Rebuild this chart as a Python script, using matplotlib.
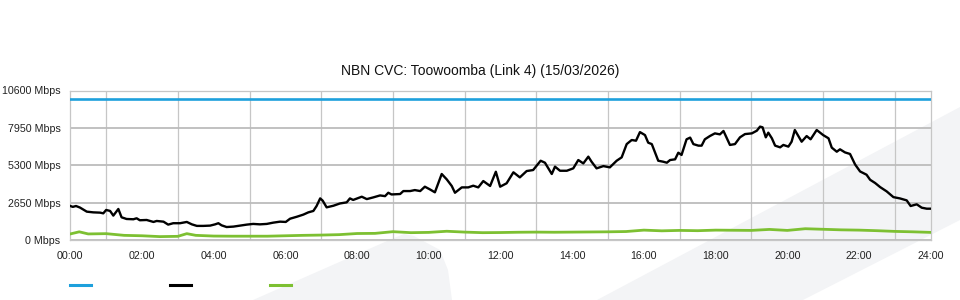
import matplotlib
matplotlib.use("Agg")
import matplotlib.pyplot as plt
from matplotlib.patches import Polygon
from matplotlib.lines import Line2D

plt.rcParams['font.family'] = ['Liberation Sans', 'DejaVu Sans']

# data (hours since midnight, Mbps)
capacity_hours = [0, 24]
capacity_mbps = [10000, 10000]

traffic_hours = [0.0, 0.07, 0.16, 0.27, 0.46, 0.64, 0.83, 0.92, 1.0, 1.11, 1.2, 1.34, 1.43,
                 1.57, 1.76, 1.85, 1.94, 2.13, 2.32, 2.41, 2.6, 2.73, 2.87, 3.06, 3.25, 3.39,
                 3.53, 3.71, 3.9, 4.04, 4.13, 4.22, 4.36, 4.55, 4.73, 4.92, 5.1, 5.29, 5.48,
                 5.66, 5.85, 6.01, 6.13, 6.32, 6.5, 6.64, 6.78, 6.87, 6.97, 7.04, 7.15, 7.34,
                 7.52, 7.71, 7.8, 7.89, 8.13, 8.27, 8.45, 8.64, 8.78, 8.87, 8.96, 9.2, 9.29,
                 9.48, 9.61, 9.76, 9.89, 10.03, 10.17, 10.36, 10.5, 10.64, 10.73, 10.92, 11.1,
                 11.24, 11.38, 11.52, 11.71, 11.87, 11.99, 12.17, 12.36, 12.54, 12.73, 12.91,
                 13.12, 13.24, 13.43, 13.52, 13.66, 13.85, 14.03, 14.17, 14.31, 14.45, 14.54,
                 14.68, 14.87, 15.05, 15.24, 15.38, 15.52, 15.66, 15.78, 15.89, 16.03, 16.12,
                 16.22, 16.4, 16.54, 16.64, 16.73, 16.87, 16.96, 17.05, 17.19, 17.29, 17.38,
                 17.52, 17.61, 17.7, 17.84, 17.98, 18.12, 18.22, 18.4, 18.54, 18.68, 18.82,
                 19.01, 19.15, 19.24, 19.31, 19.4, 19.47, 19.57, 19.66, 19.8, 19.89, 20.03,
                 20.12, 20.21, 20.4, 20.54, 20.65, 20.82, 21.0, 21.15, 21.24, 21.38, 21.47,
                 21.61, 21.75, 21.89, 22.03, 22.21, 22.31, 22.45, 22.59, 22.77, 22.96, 23.14,
                 23.33, 23.44, 23.61, 23.75, 23.89, 24.0]
traffic_mbps = [2410, 2350, 2410, 2300, 2010, 1960, 1940, 1890, 2130, 2060, 1730, 2200, 1610,
                1490, 1470, 1540, 1400, 1420, 1280, 1350, 1300, 1090, 1190, 1190, 1280, 1110,
                1000, 1000, 1020, 1110, 1190, 1040, 920, 950, 1020, 1090, 1140, 1110, 1140,
                1230, 1300, 1280, 1510, 1650, 1800, 1960, 2060, 2410, 2950, 2790, 2315, 2430,
                2590, 2670, 2950, 2840, 3070, 2900, 3020, 3160, 3110, 3350, 3230, 3260, 3470,
                3470, 3540, 3470, 3780, 3590, 3380, 4680, 4300, 3830, 3350, 3730, 3730,
                3850, 3730, 4180, 3830, 4840, 3780, 4020, 4800, 4440, 4890, 4960,
                5620, 5480, 4680, 5200, 4910, 4910, 5080, 5670, 5430, 5910, 5550,
                5080, 5240, 5150, 5620, 5860, 6800, 7090, 7040, 7650, 7440, 6900,
                6800, 5620, 5550, 5480, 5670, 5720, 6190, 6030, 7140, 7260, 6800,
                6690, 6690, 7140, 7370, 7560, 7490, 7730, 6740, 6800, 7280, 7510,
                7560, 7750, 8040, 7990, 7280, 7610, 7210, 6690, 6570, 6740, 6620,
                6970, 7800, 6970, 7370, 7140, 7800, 7440, 7210, 6550, 6260, 6430,
                6210, 6100, 5360, 4860, 4630, 4270, 4040, 3750, 3450, 3040, 2950,
                2810, 2410, 2530, 2290, 2220, 2220]

upload_hours = [0.0, 0.25, 0.5, 1.0, 1.5, 2.0, 2.5, 3.0, 3.25, 3.5, 4.0, 4.5, 5.0, 5.5, 6.0,
                6.5, 7.0, 7.5, 8.0, 8.5, 9.0, 9.5, 10.0, 10.5, 11.0, 11.5, 12.0, 12.5, 13.0,
                13.5, 14.0, 14.5, 15.0, 15.5, 16.0, 16.5, 17.0, 17.5, 18.0, 18.5, 19.0, 19.5,
                20.0, 20.5, 21.0, 21.5, 22.0, 22.5, 23.0, 23.5, 24.0]
upload_mbps = [430, 580, 430, 450, 330, 300, 240, 260, 450, 330, 280, 270, 270, 270, 300,
               330, 350, 380, 460, 470, 590, 520, 540, 620, 560, 520, 530, 550, 560,
               550, 560, 570, 580, 600, 700, 650, 680, 660, 700, 690, 680, 750,
               680, 800, 760, 720, 700, 660, 610, 580, 540]

y_ticks = [0, 2650, 5300, 7950, 10600]
x_ticks = list(range(0, 25, 2))
x_labels = ["%02d:00" % h for h in x_ticks]

title = "NBN CVC: Toowoomba (Link 4) (15/03/2026)"

blue = '#1ea0dc'
green = '#7dc032'
grid_c = '#c6c6c6'

W, H = 960, 300
fig = plt.figure(figsize=(W / 100, H / 100), dpi=100)


def px(pts):
    return [(x / W, 1 - y / H) for x, y in pts]


# faint watermark shapes in the background
wm = '#f3f4f6'
fig.add_artist(Polygon(px([(597, 300), (960, 107), (960, 220), (803, 300)]),
                       closed=True, transform=fig.transFigure, fc=wm, ec='none', zorder=-5))
fig.add_artist(Polygon(px([(253, 300), (394, 238), (404, 234), (414, 236), (440, 250),
                           (448, 270), (452, 300)]),
                       closed=True, transform=fig.transFigure, fc=wm, ec='none', zorder=-5))

ax = fig.add_axes([70.3 / W, 1 - 240 / H, 860.4 / W, 149.5 / H])
ax.set_facecolor('none')

ax.plot(capacity_hours, capacity_mbps, color=blue, lw=1.9, zorder=3)
ax.plot(upload_hours, upload_mbps, color=green, lw=2.0, zorder=3)
ax.plot(traffic_hours, traffic_mbps, color='black', lw=1.7, zorder=4)

ax.set_xlim(0, 24)
ax.set_ylim(0, 10600)
ax.set_xticks(x_ticks)
ax.set_xticklabels(x_labels)
ax.set_xticks(range(25), minor=True)
ax.set_yticks(y_ticks)
ax.set_yticklabels(["%d Mbps" % v for v in y_ticks])
ax.tick_params(axis='both', which='both', length=0, labelsize=7.7, colors='#222222')
ax.tick_params(axis='y', pad=7)
ax.tick_params(axis='x', pad=8)

ax.grid(True, axis='x', which='minor', color=grid_c, lw=0.9)
ax.grid(True, axis='y', which='major', color='#bcbcbc', lw=1.3)
ax.set_axisbelow(True)
for s in ax.spines.values():
    s.set_color(grid_c)
    s.set_linewidth(0.9)

fig.text(480 / W, 1 - 70.5 / H, title, ha='center', va='center', fontsize=10, color='#111111')

# legend swatches (no labels in the original)
for x0, c in [(70, blue), (170, 'black'), (270, green)]:
    fig.add_artist(Line2D([x0 / W, (x0 + 21) / W], [1 - 285 / H] * 2, color=c, lw=2.2,
                          transform=fig.transFigure))

fig.savefig('out.png', dpi=100)
